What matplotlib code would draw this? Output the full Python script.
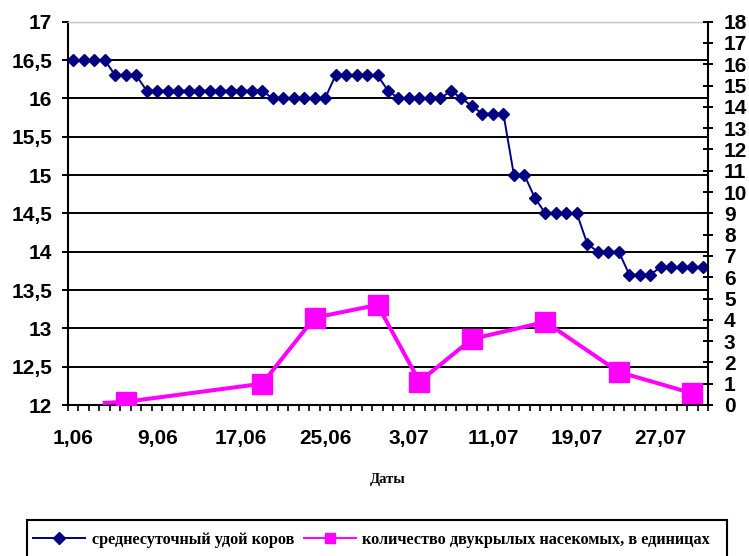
import numpy as np
import pandas as pd
import matplotlib
matplotlib.use('Agg')
import matplotlib.pyplot as plt
from matplotlib.lines import Line2D
from matplotlib.patches import Rectangle

# daily categories 1.06 - 31.07
days = pd.date_range('2000-06-01', '2000-07-31')
day_labels = [f'{d.day},{d.month:02d}' for d in days]

# average daily milk yield (left axis)
milk = [16.5, 16.5, 16.5, 16.5,
        16.3, 16.3, 16.3,
        16.1, 16.1, 16.1, 16.1, 16.1, 16.1, 16.1, 16.1, 16.1, 16.1, 16.1, 16.1,
        16.0, 16.0, 16.0, 16.0, 16.0, 16.0,
        16.3, 16.3, 16.3, 16.3, 16.3,
        16.1,
        16.0, 16.0, 16.0, 16.0, 16.0,
        16.1, 16.0, 15.9,
        15.8, 15.8, 15.8,
        15.0, 15.0, 14.7,
        14.5, 14.5, 14.5, 14.5,
        14.1,
        14.0, 14.0, 14.0,
        13.7, 13.7, 13.7,
        13.8, 13.8, 13.8, 13.8, 13.8]

# diptera count (right axis)
insect_dates = ['4,06', '6,06', '19,06', '24,06', '30,06', '4,07', '9,07', '16,07', '23,07', '30,07']
insects = [0.1, 0.15, 1.0, 4.1, 4.7, 1.1, 3.1, 3.9, 1.55, 0.55]

label_milk = 'среднесуточный удой коров'
label_ins = 'количество двукрылых насекомых, в единицах'

x = np.arange(len(milk))
x_ins = [day_labels.index(s) for s in insect_dates]

navy = '#000080'
magenta = '#FF00FF'
tick_font = {'family': 'Liberation Sans', 'weight': 'bold', 'size': 15}

fig = plt.figure(figsize=(7.49, 5.56), dpi=100)
ax = fig.add_axes([68/749, 151/556, 640/749, 383.3/556])

ax.plot(x, milk, color=navy, lw=1.4, marker='D', ms=6, zorder=3)
ax.set_xlim(-0.5, len(milk) - 0.5)
ax.set_ylim(12, 17)

yt = np.arange(12, 17.01, 0.5)
ax.set_yticks(yt)
ax.set_yticklabels([f'{v:g}'.replace('.', ',') for v in yt], fontdict=tick_font)
ax.yaxis.grid(True, color='black', lw=1.4)
ax.get_ygridlines()[-1].set_color('#c8c8c8')
ax.get_ygridlines()[-1].set_linewidth(1.0)
ax.set_axisbelow(True)
ax.tick_params(axis='y', direction='out', length=4.5, width=1.4, pad=7)

xt = x[::8]
ax.set_xticks(xt)
ax.set_xticklabels([day_labels[i] for i in xt], fontdict=tick_font)
ax.set_xticks(np.arange(-0.5, len(milk), 1.0), minor=True)
ax.tick_params(axis='x', which='major', length=0, pad=17)
ax.tick_params(axis='x', which='minor', direction='out', length=4.5, width=1.2)

for s in ['left', 'bottom']:
    ax.spines[s].set_linewidth(1.5)
ax.spines['top'].set_color('#c8c8c8')
ax.spines['top'].set_linewidth(1.0)
ax.spines['right'].set_visible(False)

ax2 = ax.twinx()
ax2.plot(x_ins, insects, color=magenta, lw=2.9, marker='s', ms=14,
         markevery=list(range(1, len(insects))), zorder=4)
ax2.set_ylim(0, 18)
ax2.set_yticks(range(0, 19))
ax2.set_yticklabels([str(v) for v in range(0, 19)], fontdict=tick_font)
ax2.tick_params(axis='y', direction='inout', length=7, width=1.4, pad=8)
ax2.spines['right'].set_linewidth(1.5)
for s in ['left', 'top', 'bottom']:
    ax2.spines[s].set_visible(False)

fig.text(388/749, 1 - 480/556, 'Даты', ha='center', va='center',
         family='Liberation Serif', weight='bold', fontsize=10.5)

# legend box
fig.patches.append(Rectangle((27/749, -0.02), 700/749, 36/556 + 0.02,
                             transform=fig.transFigure, fill=False,
                             ec='black', lw=1.5))
handles = [Line2D([], [], color=navy, lw=1.4, marker='D', ms=6),
           Line2D([], [], color=magenta, lw=1.4, marker='s', ms=7)]
fig.legend(handles, [label_milk, label_ins], loc='center left',
           bbox_to_anchor=(33/749, 16/556), ncol=2, frameon=False,
           handlelength=3.2, handletextpad=0.4, columnspacing=0.6,
           borderpad=0, borderaxespad=0,
           prop={'family': 'Liberation Serif', 'weight': 'bold', 'size': 11.7})

fig.savefig('out.png', dpi=100)
